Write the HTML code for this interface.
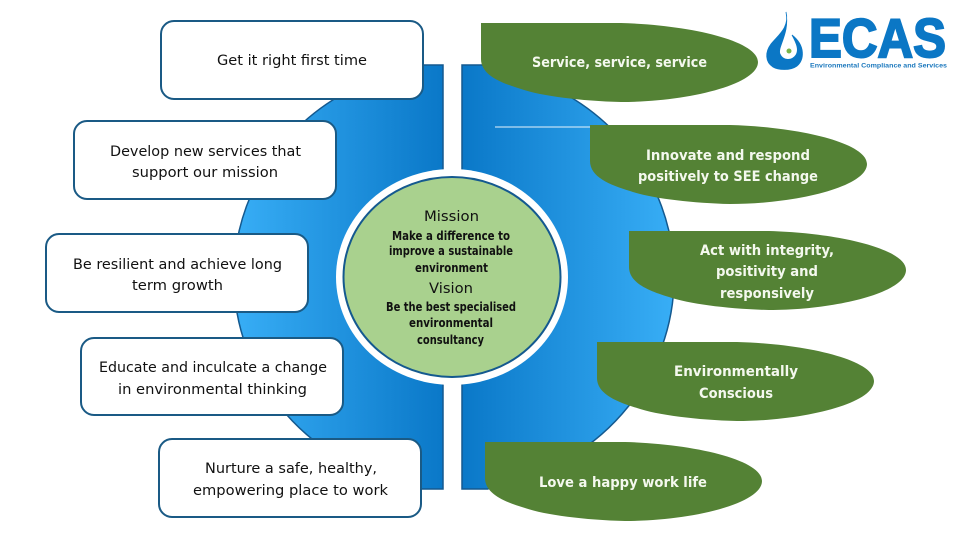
<!DOCTYPE html>
<html><head><meta charset="utf-8"><style>
html,body{margin:0;padding:0;background:#fff;width:960px;height:540px;overflow:hidden}
svg{display:block}
text{font-family:"DejaVu Sans","Liberation Sans",sans-serif}
.b text{fill:#111;font-size:14.5px}
.g text{fill:#f4f8ee;font-size:14.5px;font-weight:bold}
.c text{fill:#111;text-anchor:start}
</style></head><body>
<svg width="960" height="540" viewBox="0 0 960 540" xmlns="http://www.w3.org/2000/svg">
<defs>
<linearGradient id="l" x1="0" x2="1" y1="0" y2="0"><stop offset="0" stop-color="#38aef6"/><stop offset="1" stop-color="#0a78c8"/></linearGradient>
<linearGradient id="r" x1="0" x2="1" y1="0" y2="0"><stop offset="0" stop-color="#0a78c8"/><stop offset="1" stop-color="#38aef6"/></linearGradient>
<path id="leaf" d="M0 0 H140 C210 2 277 18 277 39 C277 62 205 79 140 79 C100 78 60 73 40 66 C20 60 0 52 0 36 Z" fill="#548235"/>
</defs>
<path d="M443 65 H420 L417 68 A220 212 0 0 0 417 486 L420 489 H443 Z" fill="url(#l)" stroke="#14598f" stroke-width="1.5"/>
<path d="M462 65 H488 L491 68 A220 212 0 0 1 491 486 L488 489 H462 Z" fill="url(#r)" stroke="#14598f" stroke-width="1.5"/>
<rect x="495" y="126.500" width="96" height="1" fill="#e8f4fc"/>
<ellipse cx="452" cy="277" rx="116" ry="108" fill="#fff"/>
<ellipse cx="452" cy="277" rx="108.500" ry="100" fill="#a9d18e" stroke="#14598f" stroke-width="2"/>
<g fill="#fff" stroke="#1a5a85" stroke-width="2">
<rect x="161" y="21" width="262" height="78" rx="13"/>
<rect x="74" y="121" width="262" height="78" rx="13"/>
<rect x="46" y="234" width="262" height="78" rx="13"/>
<rect x="81" y="338" width="262" height="77" rx="13"/>
<rect x="159" y="439" width="262" height="78" rx="13"/>
</g>
<use href="#leaf" x="481" y="23"/>
<use href="#leaf" x="590" y="125"/>
<use href="#leaf" x="629" y="231"/>
<use href="#leaf" x="597" y="342"/>
<use href="#leaf" x="485" y="442"/>
<g class="b">
<text x="217" y="65" textLength="150" lengthAdjust="spacingAndGlyphs">Get it right first time</text>
<text x="110" y="156" textLength="191" lengthAdjust="spacingAndGlyphs">Develop new services that</text>
<text x="132" y="177" textLength="146" lengthAdjust="spacingAndGlyphs">support our mission</text>
<text x="73" y="269" textLength="209" lengthAdjust="spacingAndGlyphs">Be resilient and achieve long</text>
<text x="132" y="290" textLength="91" lengthAdjust="spacingAndGlyphs">term growth</text>
<text x="99" y="372" textLength="228" lengthAdjust="spacingAndGlyphs">Educate and inculcate a change</text>
<text x="118" y="394" textLength="189" lengthAdjust="spacingAndGlyphs">in environmental thinking</text>
<text x="205" y="473" textLength="172" lengthAdjust="spacingAndGlyphs">Nurture a safe, healthy,</text>
<text x="193" y="495" textLength="195" lengthAdjust="spacingAndGlyphs">empowering place to work</text>
</g>
<g class="g">
<text x="532" y="67" textLength="175" lengthAdjust="spacingAndGlyphs">Service, service, service</text>
<text x="646" y="160" textLength="164" lengthAdjust="spacingAndGlyphs">Innovate and respond</text>
<text x="638" y="181" textLength="180" lengthAdjust="spacingAndGlyphs">positively to SEE change</text>
<text x="700" y="255" textLength="134" lengthAdjust="spacingAndGlyphs">Act with integrity,</text>
<text x="716" y="276" textLength="102" lengthAdjust="spacingAndGlyphs">positivity and</text>
<text x="720" y="298" textLength="94" lengthAdjust="spacingAndGlyphs">responsively</text>
<text x="674" y="376" textLength="124" lengthAdjust="spacingAndGlyphs">Environmentally</text>
<text x="699" y="398" textLength="74" lengthAdjust="spacingAndGlyphs">Conscious</text>
<text x="539" y="487" textLength="168" lengthAdjust="spacingAndGlyphs">Love a happy work life</text>
</g>
<g class="c">
<text x="424" y="221" font-size="14" textLength="55" lengthAdjust="spacingAndGlyphs">Mission</text>
<text x="392" y="240" font-size="12" font-weight="bold" textLength="118" lengthAdjust="spacingAndGlyphs">Make a difference to</text>
<text x="389" y="255" font-size="12" font-weight="bold" textLength="124" lengthAdjust="spacingAndGlyphs">improve a sustainable</text>
<text x="415" y="272" font-size="12" font-weight="bold" textLength="73" lengthAdjust="spacingAndGlyphs">environment</text>
<text x="429" y="293" font-size="14" textLength="44" lengthAdjust="spacingAndGlyphs">Vision</text>
<text x="386" y="311" font-size="12" font-weight="bold" textLength="130" lengthAdjust="spacingAndGlyphs">Be the best specialised</text>
<text x="409" y="327" font-size="12" font-weight="bold" textLength="84" lengthAdjust="spacingAndGlyphs">environmental</text>
<text x="417" y="344" font-size="12" font-weight="bold" textLength="67" lengthAdjust="spacingAndGlyphs">consultancy</text>
</g>
<!-- logo -->
<path d="M786 12 C790 28 777 36 771 44 C765 52 765 62 773 67 C778 70 790 71 797 66 C804 60 806 46 792 35 C797 44 799 50 796 55 C792 61 783 61 780 54 C777 47 790 34 786 12 Z" fill="#0b77c5" stroke="#0b77c5" stroke-width="0.8"/>
<circle cx="789" cy="51" r="2.500" fill="#7ab648"/>
<text x="809" y="57" font-size="55" textLength="137" lengthAdjust="spacingAndGlyphs" style="font-family:'Liberation Sans',sans-serif;font-weight:bold" fill="#0b77c5" stroke="#0b77c5" stroke-width="2">ECAS</text>
<text x="810" y="67.500" font-size="6.800" textLength="137" lengthAdjust="spacingAndGlyphs" style="font-family:'Liberation Sans',sans-serif;font-weight:bold" fill="#1b78bd">Environmental Compliance and Services</text>
</svg>
</body></html>
